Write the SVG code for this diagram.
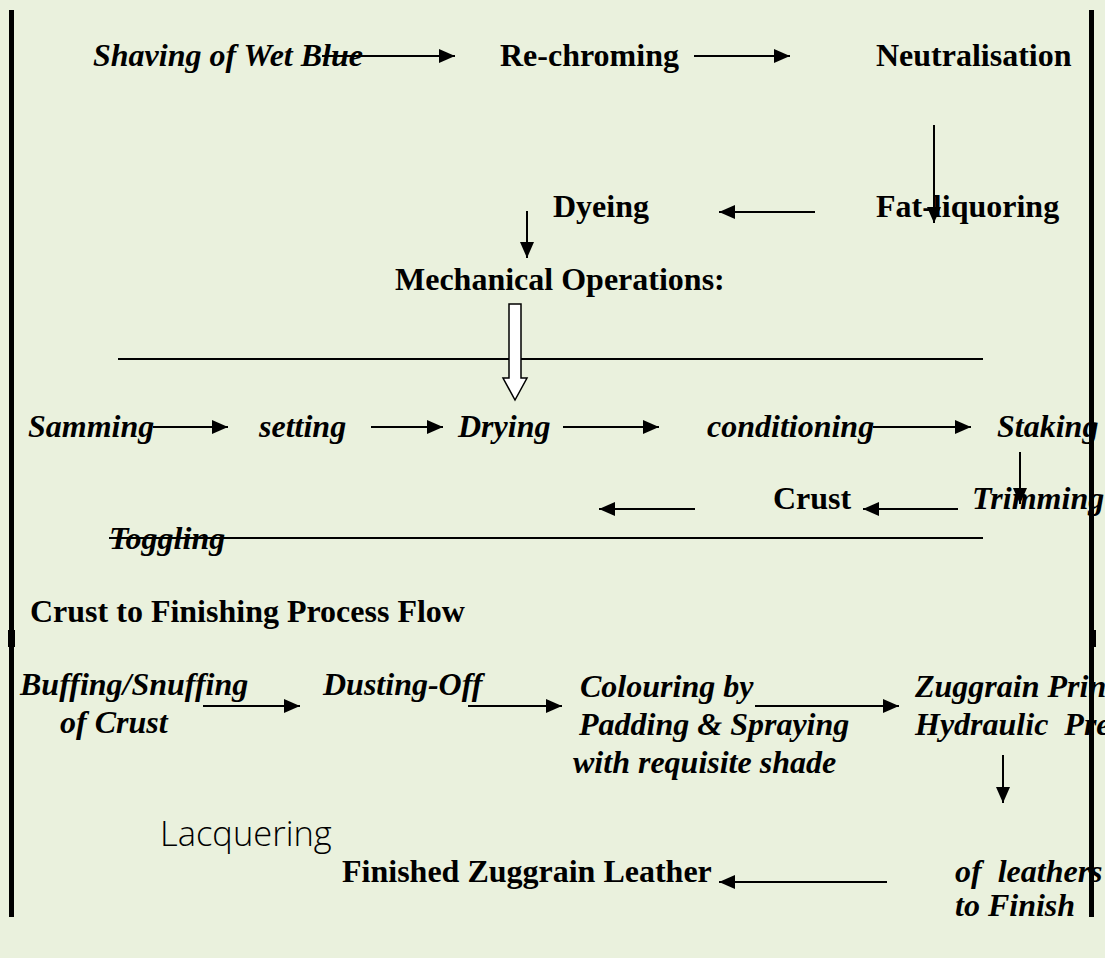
<svg xmlns="http://www.w3.org/2000/svg" width="1105" height="958" viewBox="0 0 1105 958">
<defs>
<marker id="ah" markerUnits="userSpaceOnUse" markerWidth="16" markerHeight="14" refX="16" refY="7" orient="auto">
<path d="M0,0 L16,7 L0,14 z" fill="#000"/>
</marker>
<style>
text{fill:#000;font-family:"Liberation Serif","Times New Roman",serif;font-size:32px;font-weight:bold}
.i{font-style:italic}
.sans{font-family:"Open Sans","Liberation Sans",sans-serif;font-weight:300;font-size:34.5px}
.c{stroke:#000;stroke-width:2;fill:none}
.a{marker-end:url(#ah)}
.rule{stroke:#000;stroke-width:2}
</style>
</defs>
<rect x="0" y="0" width="1105" height="958" fill="#EAF1DD"/>
<g id="borders">
<rect x="9" y="10" width="5" height="907" fill="#000"/>
<rect x="8" y="630" width="7" height="17" fill="#000"/>
<rect x="1089" y="10" width="5" height="907" fill="#000"/>
<rect x="1089" y="630" width="7" height="17" fill="#000"/>
</g>
<g id="rules">
<line class="rule" x1="118" y1="359" x2="983" y2="359"/>
<line class="rule" x1="109" y1="538" x2="983" y2="538"/>
</g>
<g id="n-shaving"><text class="i" x="93" y="66">Shaving of Wet Blue</text></g>
<g id="n-rechroming"><text x="500" y="66">Re-chroming</text></g>
<g id="n-neutralisation"><text x="876" y="66">Neutralisation</text></g>
<g id="n-dyeing"><text x="553" y="217">Dyeing</text></g>
<g id="n-fatliquoring"><text x="876" y="217">Fat-liquoring</text></g>
<g id="n-mech"><text x="395" y="290">Mechanical Operations:</text></g>
<g id="n-samming"><text class="i" x="28" y="437">Samming</text></g>
<g id="n-setting"><text class="i" x="259" y="437">setting</text></g>
<g id="n-drying"><text class="i" x="458" y="437">Drying</text></g>
<g id="n-conditioning"><text class="i" x="707" y="437">conditioning</text></g>
<g id="n-staking"><text class="i" x="997" y="437">Staking</text></g>
<g id="n-trimming"><text class="i" x="972" y="509">Trimming</text></g>
<g id="n-crust"><text x="773" y="509">Crust</text></g>
<g id="n-toggling"><text class="i" x="109" y="549">Toggling</text></g>
<g id="n-title"><text x="30" y="622">Crust to Finishing Process Flow</text></g>
<g id="n-buffing"><text class="i" x="20" y="695">Buffing/Snuffing</text><text class="i" x="60" y="733">of Crust</text></g>
<g id="n-dusting"><text class="i" x="323" y="695">Dusting-Off</text></g>
<g id="n-colouring"><text class="i" x="580" y="697">Colouring by</text><text class="i" x="579" y="735">Padding &amp; Spraying</text><text class="i" x="573" y="773">with requisite shade</text></g>
<g id="n-zuggrain"><text class="i" x="915" y="697">Zuggrain Prin</text><text class="i" x="915" y="735" xml:space="preserve">Hydraulic  Pre</text></g>
<g id="n-lacquering"><text class="sans" x="160" y="846">Lacquering</text></g>
<g id="n-finished"><text x="342" y="882">Finished Zuggrain Leather</text></g>
<g id="n-leathers"><text class="i" x="955" y="882" xml:space="preserve">of  leathers</text><text class="i" x="955" y="916">to Finish</text></g>
<g id="connectors">
<line class="c a" x1="322" y1="56" x2="455" y2="56"/>
<line class="c a" x1="694" y1="56" x2="790" y2="56"/>
<line class="c a" x1="934" y1="125" x2="934" y2="223"/>
<line class="c a" x1="815" y1="212" x2="719" y2="212"/>
<line class="c a" x1="527" y1="211" x2="527" y2="258"/>
<polygon points="509,304 521,304 521,378 527,378 515,400 503,378 509,378" fill="#fff" stroke="#000" stroke-width="1.5"/>
<line class="c a" x1="153" y1="427" x2="228" y2="427"/>
<line class="c a" x1="371" y1="427" x2="443" y2="427"/>
<line class="c a" x1="563" y1="427" x2="659" y2="427"/>
<line class="c a" x1="873" y1="427" x2="971" y2="427"/>
<line class="c a" x1="1020" y1="452" x2="1020" y2="504"/>
<line class="c a" x1="958" y1="509" x2="863" y2="509"/>
<line class="c a" x1="695" y1="509" x2="599" y2="509"/>
<line class="c a" x1="203" y1="706" x2="300" y2="706"/>
<line class="c a" x1="468" y1="706" x2="562" y2="706"/>
<line class="c a" x1="755" y1="706" x2="899" y2="706"/>
<line class="c a" x1="1003" y1="755" x2="1003" y2="803"/>
<line class="c a" x1="887" y1="882" x2="719" y2="882"/>
</g>
</svg>
